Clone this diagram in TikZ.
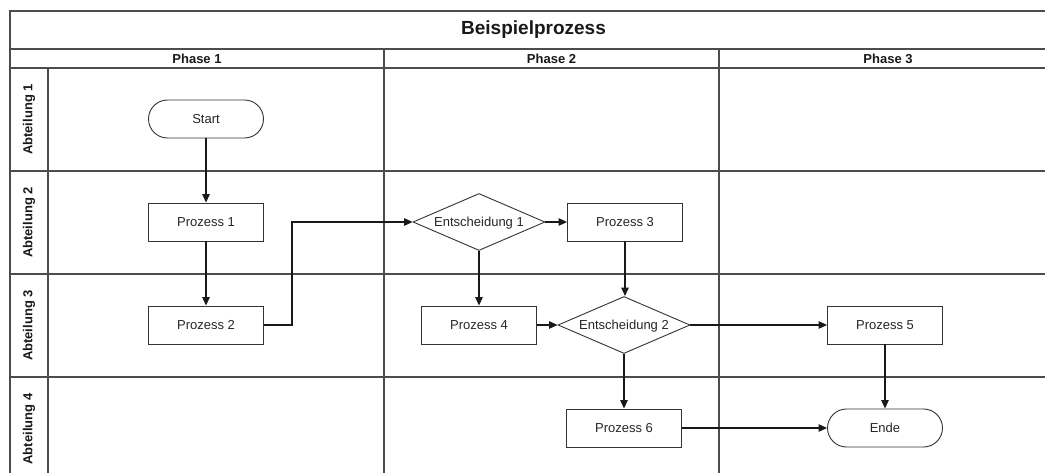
\documentclass[tikz,border=0pt]{standalone}
\usepackage{fontspec}
\setmainfont{Liberation Sans}
\usetikzlibrary{arrows.meta,shapes.geometric}

\begin{document}
\begin{tikzpicture}[x=1pt,y=-1pt,
  frame/.style={draw=black!70, line width=1.4pt},
  box/.style={draw=black!80, line width=0.9pt, minimum width=115pt,
    minimum height=38pt, inner sep=0pt, text=black!85,
    text height=9.4pt, text depth=0pt,
    font=\fontsize{13}{15}\selectfont},
  term/.style={box, rounded corners=19pt},
  decision/.style={diamond, draw=black!80, line width=0.9pt, aspect=2.3,
    minimum width=132pt, minimum height=57pt, inner sep=0pt, text=black!85,
    text height=9.4pt, text depth=0pt,
    font=\fontsize{13}{15}\selectfont},
  flow/.style={draw=black!90, line width=1.1pt, -{Triangle[length=8.5pt,width=7.5pt]}},
  head/.style={text=black!90, font=\bfseries\fontsize{13}{15}\selectfont},
  title/.style={text=black!90, font=\bfseries\fontsize{19}{22}\selectfont},
]
\useasboundingbox (0,0) rectangle (1045,473);
\fill[white] (0,0) rectangle (1045,473);
\clip (0,0) rectangle (1045,473);

% swimlane grid
\draw[frame] (1060,11) -- (10,11) -- (10,490);
\draw[frame] (10,49) -- (1060,49);
\draw[frame] (10,68) -- (1060,68);
\draw[frame] (10,171) -- (1060,171);
\draw[frame] (10,274) -- (1060,274);
\draw[frame] (10,377) -- (1060,377);
\draw[frame] (48,68) -- (48,490);
\draw[frame] (384,49) -- (384,490);
\draw[frame] (719,49) -- (719,490);

% headers
\node[title] (t) at (533.5,30) {Beispielprozess};
\node[head] (ph1) at (197,58.5) {Phase 1};
\node[head] (ph2) at (551.5,58.5) {Phase 2};
\node[head] (ph3) at (888,58.5) {Phase 3};
\node[head, rotate=90] (ab1) at (29,119.5) {Abteilung 1};
\node[head, rotate=90] (ab2) at (29,222.5) {Abteilung 2};
\node[head, rotate=90] (ab3) at (29,325.5) {Abteilung 3};
\node[head, rotate=90] (ab4) at (29,429) {Abteilung 4};

% flow nodes
\node[term] (start) at (206,119) {Start};
\node[box] (p1) at (206,222) {Prozess 1};
\node[box] (p2) at (206,325) {Prozess 2};
\node[decision] (e1) at (479,222) {Entscheidung 1};
\node[box] (p3) at (625,222) {Prozess 3};
\node[box] (p4) at (479,325) {Prozess 4};
\node[decision] (e2) at (624,325) {Entscheidung 2};
\node[box] (p5) at (885,325) {Prozess 5};
\node[box] (p6) at (624,428) {Prozess 6};
\node[term] (ende) at (885,428) {Ende};

% connectors
\draw[flow] (start) -- (p1);
\draw[flow] (p1) -- (p2);
\draw[flow] (p2.east) -- ++(28,0) |- (e1.west);
\draw[flow] (e1) -- (p3);
\draw[flow] (e1) -- (p4);
\draw[flow] (p3.south) -- (p3.south |- e2.north);
\draw[flow] (p4) -- (e2);
\draw[flow] (e2) -- (p5);
\draw[flow] (e2.south) -- (e2.south |- p6.north);
\draw[flow] (p5) -- (ende);
\draw[flow] (p6) -- (ende);
\end{tikzpicture}
\end{document}
